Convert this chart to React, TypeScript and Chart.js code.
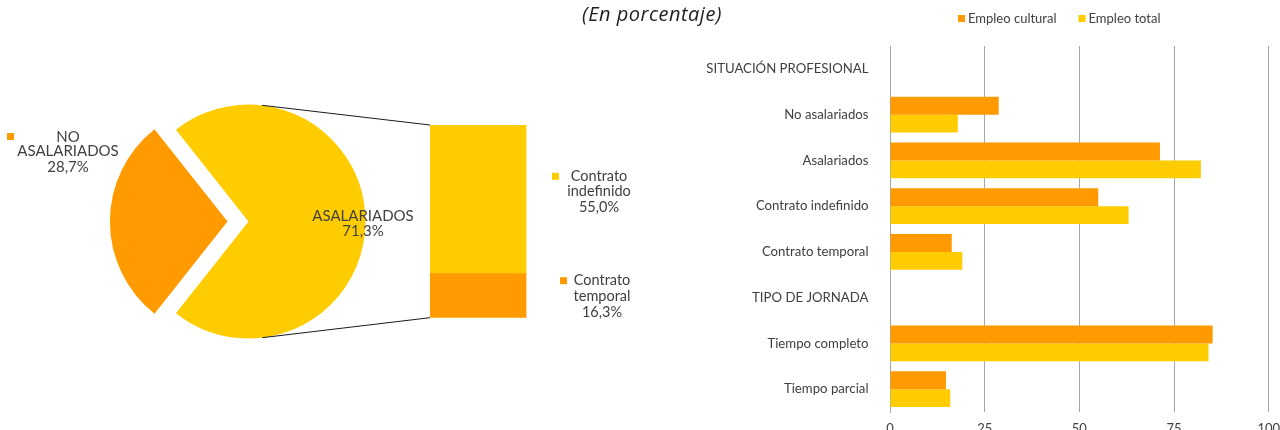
import React, { useEffect, useRef } from 'react';
import { Chart, registerables } from 'chart.js';

Chart.register(...registerables);

// ---------- data ----------
const pieLabels = ['ASALARIADOS', 'NO ASALARIADOS'];
const pieValues = [71.3, 28.7];

const contractLabels = ['Contrato temporal', 'Contrato indefinido'];
const contractValues = [16.3, 55.0];

const categories = [
  'SITUACIÓN PROFESIONAL',
  'No asalariados',
  'Asalariados',
  'Contrato indefinido',
  'Contrato temporal',
  'TIPO DE JORNADA',
  'Tiempo completo',
  'Tiempo parcial',
];
const seriesNames = ['Empleo cultural', 'Empleo total'];
const empleoCultural = [null, 28.7, 71.3, 55.0, 16.3, null, 85.2, 14.8];
const empleoTotal = [null, 17.9, 82.1, 63.0, 19.1, null, 84.1, 15.9];
const xTicks = [0, 25, 50, 75, 100];

const titleText = '(En porcentaje)';

// ---------- styles ----------
const ORANGE = '#FF9A00';
const YELLOW = '#FFCC00';
const TEXT = '#404040';
const GRID = '#A6A6A6';
const FONT = 'Lato, "Open Sans", sans-serif';

const fmt = (v: number) => v.toFixed(1).replace('.', ',') + '%';

function drawLines(ctx: CanvasRenderingContext2D, lines: string[], cx: number, ys: number[], size = 14) {
  ctx.save();
  ctx.font = `${size}px ${FONT}`;
  ctx.fillStyle = TEXT;
  ctx.textAlign = 'center';
  ctx.textBaseline = 'middle';
  lines.forEach((l, i) => ctx.fillText(l, cx, ys[i]));
  ctx.restore();
}

function drawMarker(ctx: CanvasRenderingContext2D, x: number, y: number, color: string) {
  ctx.save();
  ctx.fillStyle = color;
  ctx.fillRect(x, y, 7, 7);
  ctx.restore();
}

export default function App() {
  const pieRef = useRef<HTMLCanvasElement>(null);
  const stackRef = useRef<HTMLCanvasElement>(null);
  const barRef = useRef<HTMLCanvasElement>(null);

  useEffect(() => {
    const pieTotal = pieValues.reduce((a, b) => a + b, 0);
    const rotation = 90 - ((pieValues[0] / pieTotal) * 360) / 2;

    const pieLabelPlugin = {
      id: 'pieLabels',
      afterDraw(chart: any) {
        const ctx = chart.ctx as CanvasRenderingContext2D;
        const arc = chart.getDatasetMeta(0).data[0] as any;
        const cx = arc.x;
        const cy = arc.y;
        const values = chart.data.datasets[0].data as number[];
        const labels = chart.data.labels as string[];
        // ASALARIADOS
        drawLines(ctx, [labels[0], fmt(values[0])], cx + 114.5, [cy - 5.5, cy + 9.5], 15);
        // NO ASALARIADOS
        const parts = labels[1].split(' ');
        drawLines(ctx, [parts[0], parts[1], fmt(values[1])], cx - 180.5, [cy - 84.5, cy - 70, cy - 54.5], 15);
        drawMarker(ctx, cx - 241.5, cy - 88.5, ORANGE);
      },
    };

    const pie = new Chart(pieRef.current as HTMLCanvasElement, {
      type: 'pie',
      data: {
        labels: pieLabels,
        datasets: [
          {
            data: pieValues,
            backgroundColor: [YELLOW, ORANGE],
            borderWidth: 0,
            offset: [0, 84],
            hoverOffset: 0,
          } as any,
        ],
      },
      options: {
        animation: false,
        responsive: false,
        devicePixelRatio: 1,
        events: [],
        rotation,
        radius: 117,
        layout: { padding: { left: 0, right: 143, top: 13, bottom: 0 } },
        plugins: { legend: { display: false }, tooltip: { enabled: false }, title: { display: false } },
      } as any,
      plugins: [pieLabelPlugin],
    });

    const connectorPlugin = {
      id: 'connector',
      afterDraw(chart: any) {
        const ctx = chart.ctx as CanvasRenderingContext2D;
        const bottomBar = chart.getDatasetMeta(0).data[0] as any;
        const topBar = chart.getDatasetMeta(1).data[0] as any;
        const left = topBar.x - topBar.width / 2;
        const right = topBar.x + topBar.width / 2;
        const topY = topBar.y;
        const botY = bottomBar.base;
        const mid = topBar.base;
        const arc = pie.getDatasetMeta(0).data[0] as any;
        const C = { x: arc.x, y: arc.y };
        const r = arc.outerRadius;
        const tangent = (px: number, py: number, sign: number) => {
          const dx = px - C.x;
          const dy = py - C.y;
          const d = Math.hypot(dx, dy);
          const phi = Math.atan2(dy, dx);
          const a = Math.acos(r / d);
          const t = phi + sign * a;
          return { x: C.x + r * Math.cos(t), y: C.y + r * Math.sin(t) };
        };
        const t1 = tangent(left, topY, -1);
        const t2 = tangent(left, botY, 1);
        ctx.save();
        ctx.strokeStyle = '#1a1a1a';
        ctx.lineWidth = 1;
        ctx.beginPath();
        ctx.moveTo(t1.x, t1.y);
        ctx.lineTo(left, topY);
        ctx.moveTo(t2.x, t2.y);
        ctx.lineTo(left, botY);
        ctx.stroke();
        ctx.restore();

        const ds = chart.data.datasets;
        const v0 = ds[0].data[0] as number;
        const v1 = ds[1].data[0] as number;
        // Contrato indefinido (top, yellow)
        const l1 = (ds[1].label as string).split(' ');
        const c1 = (topY + mid) / 2;
        drawLines(ctx, [l1[0], l1[1], fmt(v1)], right + 72.5, [c1 - 23, c1 - 8, c1 + 8], 14.5);
        drawMarker(ctx, right + 25.5, c1 - 26.5, YELLOW);
        // Contrato temporal (bottom, orange)
        const l0 = (ds[0].label as string).split(' ');
        const c0 = (mid + botY) / 2;
        drawLines(ctx, [l0[0], l0[1], fmt(v0)], right + 75.5, [c0 - 15, c0 + 1, c0 + 16.5], 14.5);
        drawMarker(ctx, right + 33.5, c0 - 18.5, ORANGE);
      },
    };

    const stackTotal = contractValues.reduce((a, b) => a + b, 0);
    const stack = new Chart(stackRef.current as HTMLCanvasElement, {
      type: 'bar',
      data: {
        labels: [''],
        datasets: [
          { label: contractLabels[0], data: [contractValues[0]], backgroundColor: ORANGE, borderWidth: 0 },
          { label: contractLabels[1], data: [contractValues[1]], backgroundColor: YELLOW, borderWidth: 0 },
        ],
      },
      options: {
        animation: false,
        responsive: false,
        devicePixelRatio: 1,
        events: [],
        layout: { padding: { left: 430, right: 113.5, top: 125, bottom: 112.3 } },
        datasets: { bar: { barPercentage: 1, categoryPercentage: 1 } },
        scales: {
          x: { display: false, stacked: true },
          y: { display: false, stacked: true, min: 0, max: stackTotal },
        },
        plugins: { legend: { display: false }, tooltip: { enabled: false } },
      } as any,
      plugins: [connectorPlugin],
    });

    const legendPlugin = {
      id: 'customLegend',
      afterDraw(chart: any) {
        const ctx = chart.ctx as CanvasRenderingContext2D;
        const area = chart.chartArea;
        let x = area.left + 68;
        const y = 19;
        ctx.save();
        ctx.font = `13px ${FONT}`;
        ctx.textBaseline = 'middle';
        ctx.textAlign = 'left';
        chart.data.datasets.forEach((ds: any) => {
          ctx.fillStyle = ds.backgroundColor;
          ctx.fillRect(x, y - 4, 7, 7);
          x += 10;
          ctx.fillStyle = TEXT;
          ctx.fillText(ds.label, x, y);
          x += ctx.measureText(ds.label).width + 22;
        });
        ctx.restore();
      },
    };

    const bars = new Chart(barRef.current as HTMLCanvasElement, {
      type: 'bar',
      data: {
        labels: categories,
        datasets: [
          { label: seriesNames[0], data: empleoCultural, backgroundColor: ORANGE, borderWidth: 0 },
          { label: seriesNames[1], data: empleoTotal, backgroundColor: YELLOW, borderWidth: 0 },
        ],
      },
      options: {
        indexAxis: 'y',
        animation: false,
        responsive: false,
        devicePixelRatio: 1,
        events: [],
        layout: { padding: { top: 46, right: 11, bottom: 0, left: 0 } },
        datasets: { bar: { categoryPercentage: 0.78, barPercentage: 1 } },
        scales: {
          x: {
            min: xTicks[0],
            max: xTicks[xTicks.length - 1],
            afterBuildTicks: (s: any) => {
              s.ticks = xTicks.map((v) => ({ value: v }));
            },
            ticks: { color: TEXT, font: { family: FONT, size: 13 }, padding: 0 },
            grid: { color: GRID, drawTicks: true, tickLength: 9, tickColor: 'rgba(0,0,0,0)' },
            border: { display: false },
            afterFit: (s: any) => {
              s.height = 18;
            },
          },
          y: {
            grid: { display: false, drawTicks: true, tickLength: 21.5 },
            border: { display: true, color: GRID },
            ticks: { color: TEXT, font: { family: FONT, size: 13.2 }, padding: 0 },
            afterFit: (s: any) => {
              s.width = 250;
            },
          },
        },
        plugins: { legend: { display: false }, tooltip: { enabled: false }, title: { display: false } },
      } as any,
      plugins: [legendPlugin],
    });

    return () => {
      bars.destroy();
      stack.destroy();
      pie.destroy();
    };
  }, []);

  return (
    <div
      style={{
        position: 'fixed',
        left: 0,
        top: 0,
        width: 1280,
        height: 430,
        overflow: 'hidden',
        background: '#ffffff',
      }}
    >
      <canvas ref={pieRef} width={640} height={430} style={{ position: 'absolute', left: 0, top: 0, width: 640, height: 430 }} />
      <canvas ref={stackRef} width={640} height={430} style={{ position: 'absolute', left: 0, top: 0, width: 640, height: 430 }} />
      <canvas ref={barRef} width={640} height={430} style={{ position: 'absolute', left: 640, top: 0, width: 640, height: 430 }} />
      <div
        style={{
          position: 'absolute',
          left: 0,
          top: 2,
          width: 1304,
          textAlign: 'center',
          fontFamily: '"Open Sans", Lato, sans-serif',
          fontStyle: 'italic',
          fontSize: 20,
          letterSpacing: '0.5px',
          lineHeight: '24px',
          color: '#222222',
        }}
      >
        {titleText}
      </div>
    </div>
  );
}
